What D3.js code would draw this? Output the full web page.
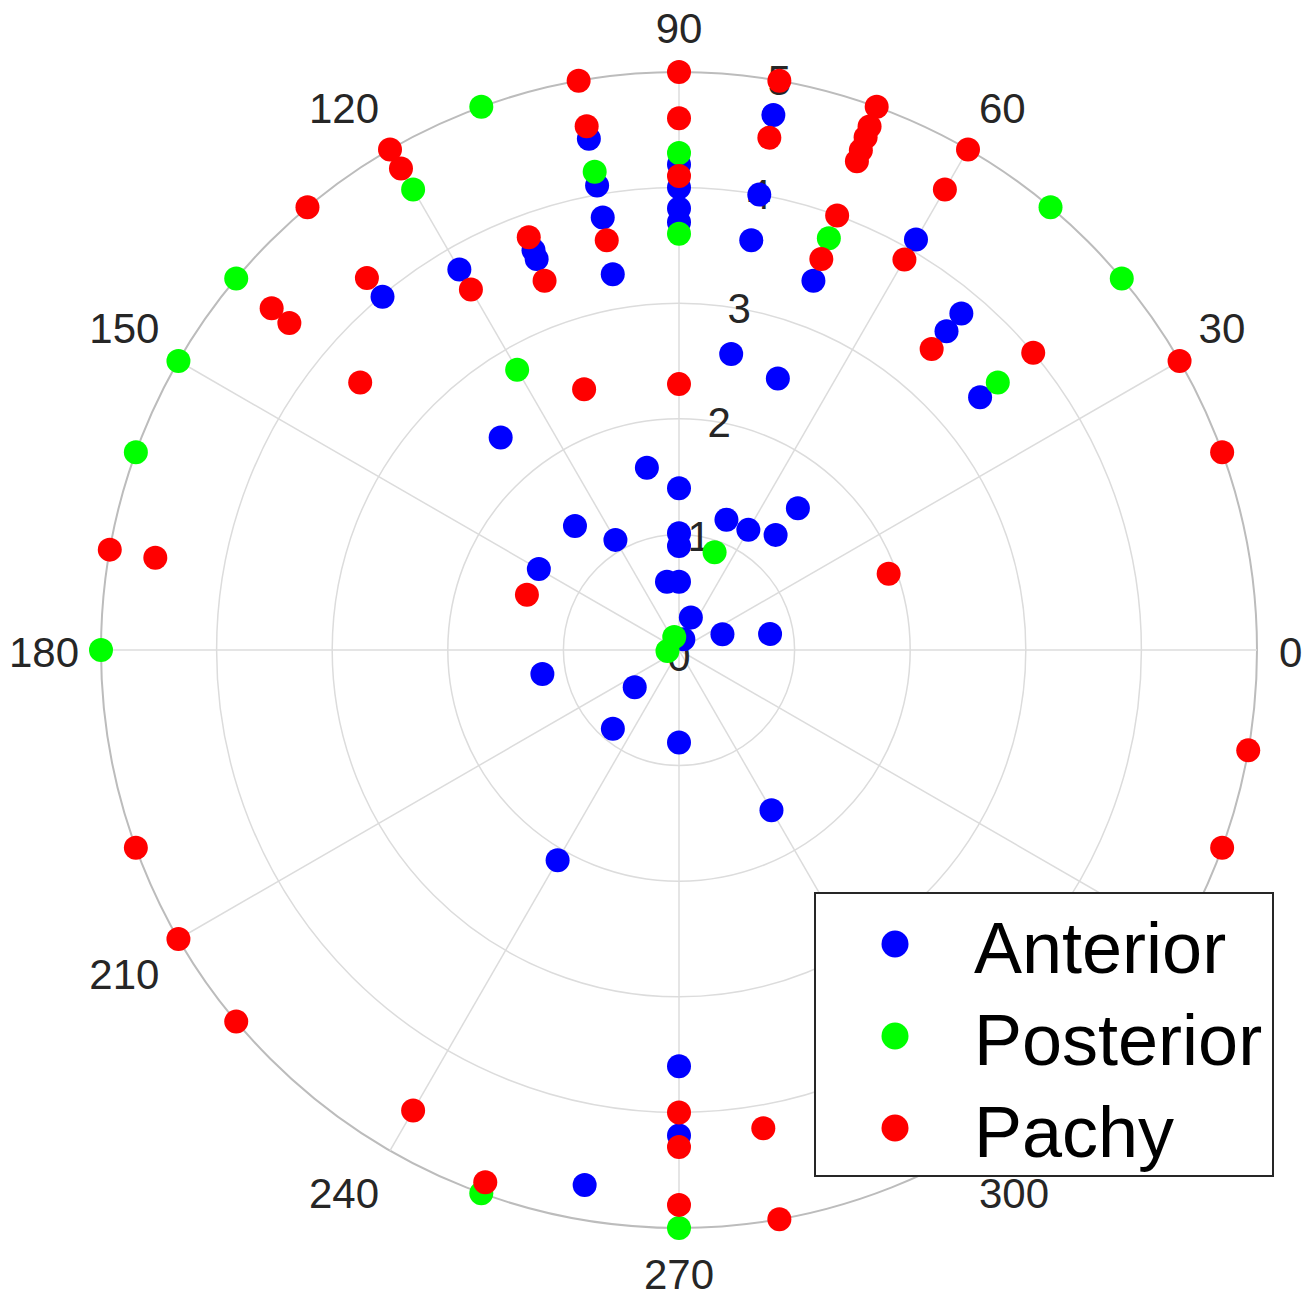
<!DOCTYPE html>
<html>
<head>
<meta charset="utf-8">
<script src="https://cdn.jsdelivr.net/npm/d3@7"></script>
<style>
  body { margin: 0; background: #fff; }
  svg { display: block; font-family: "Liberation Sans", Arial, sans-serif; }
</style>
</head>
<body>
<svg id="chart"></svg>
<script>
// angles in degrees, radius in data units
var anteriorTheta = [100,100,100,100,90,90,90,90,110,110,120,130,80,80,80,70,60,50,50,40,130,100,90,130,120,90,90,80,70,50,70,60,50,150,100,90,70,20,10,68,190,220,230,270,300,240,270,270,260];
var anteriorR     = [4.49,4.08,3.8,3.3,4.2,4.0,3.82,3.7,3.68,3.6,3.8,3.99,4.7,4.0,3.6,3.4,4.1,3.8,3.6,3.4,2.4,1.6,1.4,1.4,1.1,1.01,0.9,2.6,2.5,1.6,1.2,1.2,1.3,1.4,0.6,0.59,0.3,0.4,0.8,0.1,1.2,0.5,0.89,0.8,1.6,2.1,3.6,4.2,4.7];

var posteriorTheta = [110,120,100,90,90,70,50,40,40,120,70,110,185,140,150,160,180,250,270];
var posteriorR     = [5,4.6,4.2,4.3,3.6,3.79,5,5,3.6,2.8,0.9,0.12,0.1,5,5,5,5,5,5];

var pachyTheta = [100,90,120,120,100,100,90,90,110,110,120,80,80,70,70,70,70,70,60,60,70,70,60,50,40,30,20,110,90,160,20,130,140,140,130,140,170,170,200,210,220,240,270,270,280,250,270,280,350,340];
var pachyR     = [5,5,5,4.81,4.6,3.6,4.6,4.1,3.8,3.4,3.6,5,4.5,5,4.82,4.72,4.6,4.5,5,4.6,4.0,3.6,3.9,3.4,4.0,5,5,2.4,2.3,1.4,1.93,5,4.6,4.4,4.2,3.6,5,4.6,5,5,5,4.6,4.0,4.3,4.2,4.9,4.8,5,5,5];

var seriesNames  = ["Anterior", "Posterior", "Pachy"];
var seriesColors = ["#0000ff", "#00ff00", "#ff0000"];
var angleTicks  = [0,30,60,90,120,150,180,210,240,270,300,330];
var radialTicks = [0,1,2,3,4,5];

var width = 1316, height = 1297;
var cx = 679, cy = 650, R = 578;

var svg = d3.select("#chart").attr("width", width).attr("height", height);
svg.append("rect").attr("width", width).attr("height", height).attr("fill", "#fff");

var r = d3.scaleLinear().domain([0, 5]).range([0, R]);
var ang = d3.scaleLinear().domain([0, 360]).range([0, 2 * Math.PI]);

function px(t, v) { return cx + r(v) * Math.cos(ang(t)); }
function py(t, v) { return cy - r(v) * Math.sin(ang(t)); }

var g = svg.append("g");

// rings
g.selectAll("circle.ring")
  .data(radialTicks.filter(function(d){ return d > 0; }))
  .enter().append("circle")
  .attr("class", "ring")
  .attr("cx", cx).attr("cy", cy)
  .attr("r", function(d){ return r(d); })
  .attr("fill", "none")
  .attr("stroke", function(d){ return d === 5 ? "#bcbcbc" : "#dcdcdc"; })
  .attr("stroke-width", function(d){ return d === 5 ? 2 : 1.5; });

// spokes
g.selectAll("line.spoke")
  .data(angleTicks)
  .enter().append("line")
  .attr("class", "spoke")
  .attr("x1", cx).attr("y1", cy)
  .attr("x2", function(d){ return px(d, 5); })
  .attr("y2", function(d){ return py(d, 5); })
  .attr("stroke", "#dcdcdc")
  .attr("stroke-width", 1.5);

// angle labels: anchored just outside the outer ring, aligned away from centre
var labelDist = 600;
g.selectAll("text.alabel")
  .data(angleTicks)
  .enter().append("text")
  .attr("class", "alabel")
  .attr("text-anchor", function(d){
    var c = Math.cos(ang(d));
    return c > 0.01 ? "start" : (c < -0.01 ? "end" : "middle");
  })
  .attr("dominant-baseline", "central")
  .attr("font-size", 42)
  .attr("fill", "#262626")
  .attr("x", function(d){ return cx + labelDist * Math.cos(ang(d)); })
  .attr("y", function(d){
    var s = Math.sin(ang(d));
    var off = s > 0.01 ? -22 : (s < -0.01 ? 24 : 2);
    return cy - labelDist * s + off;
  })
  .text(function(d){ return d; });

// radial labels
g.selectAll("text.rlabel")
  .data(radialTicks)
  .enter().append("text")
  .attr("class", "rlabel")
  .attr("text-anchor", "middle")
  .attr("dominant-baseline", "central")
  .attr("font-size", 42)
  .attr("fill", "#262626")
  .attr("x", function(d){ return px(80, d); })
  .attr("y", function(d){ return py(80, d) + (d === 0 ? 6 : 0); })
  .text(function(d){ return d; });

// points
var series = [
  { theta: anteriorTheta, r: anteriorR },
  { theta: posteriorTheta, r: posteriorR },
  { theta: pachyTheta, r: pachyR }
];

series.forEach(function(s, i) {
  var pts = s.theta.map(function(t, j){ return { t: t, v: s.r[j] }; });
  g.append("g").selectAll("circle")
    .data(pts)
    .enter().append("circle")
    .attr("cx", function(d){ return px(d.t, d.v); })
    .attr("cy", function(d){ return py(d.t, d.v); })
    .attr("r", 12)
    .attr("fill", seriesColors[i]);
});

// legend
var leg = svg.append("g").attr("transform", "translate(815,893)");
leg.append("rect")
  .attr("width", 458).attr("height", 283)
  .attr("fill", "#fff")
  .attr("stroke", "#262626")
  .attr("stroke-width", 2);

var items = leg.selectAll("g.item")
  .data(seriesNames)
  .enter().append("g")
  .attr("class", "item")
  .attr("transform", function(d, i){ return "translate(0," + (51 + i * 92) + ")"; });

items.append("circle")
  .attr("cx", 80).attr("cy", 0).attr("r", 13.5)
  .attr("fill", function(d, i){ return seriesColors[i]; });

items.append("text")
  .attr("x", 159).attr("y", 29)
  .attr("font-size", 72)
  .attr("fill", "#000")
  .text(function(d){ return d; });
</script>
</body>
</html>
